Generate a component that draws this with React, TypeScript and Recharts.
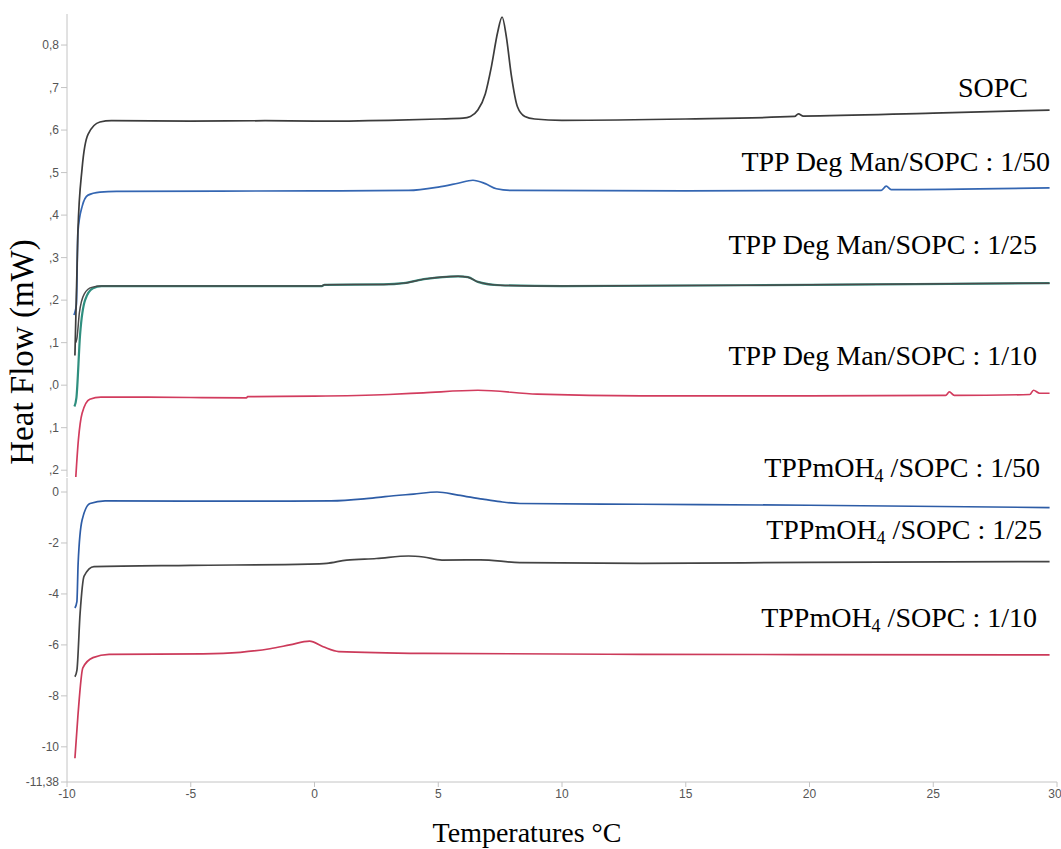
import { LineChart, Line, XAxis, YAxis } from 'recharts';

// temperature axis
const xTicks = [-10, -5, 0, 5, 10, 15, 20, 25, 30];

// upper panel (TPP Deg Man series), tick labels as printed (truncated)
const upperTicks = [0.8, 0.7, 0.6, 0.5, 0.4, 0.3, 0.2, 0.1, 0, -0.1, -0.2];
const upperTickLabels = ['0,8', ',7', ',6', ',5', ',4', ',3', ',2', ',1', ',0', ',1', ',2'];

// lower panel (TPPmOH4 series)
const lowerTicks = [0, -2, -4, -6, -8, -10, -11.38];

const sopcT = [-9.68, -9.56, -9.39, -9.15, -8.67, -8.2, -5, -2, 0, 3, 5, 6, 6.3, 6.6, 6.9, 7.15, 7.4, 7.58, 7.75, 7.95, 8.2, 8.5, 8.9, 10, 15, 19.4, 19.55, 19.75, 25, 29.7];
const sopcV = [0.07, 0.36, 0.51, 0.59, 0.619, 0.622, 0.621, 0.622, 0.621, 0.623, 0.626, 0.628, 0.632, 0.647, 0.685, 0.75, 0.83, 0.866, 0.82, 0.73, 0.655, 0.632, 0.626, 0.623, 0.626, 0.632, 0.638, 0.633, 0.64, 0.647];

const deg50T = [-9.72, -9.62, -9.56, -9.39, -9.15, -8.67, -8, 0, 3.8, 5.0, 5.8, 6.4, 6.9, 7.35, 8, 15, 22.9, 23.1, 23.3, 29.7];
const deg50V = [0.165, 0.19, 0.36, 0.42, 0.447, 0.454, 0.456, 0.457, 0.458, 0.466, 0.475, 0.482, 0.474, 0.462, 0.458, 0.457, 0.458, 0.468, 0.46, 0.464];

const deg25TealT = [-9.7, -9.62, -9.47, -9.27, -8.95, -8.6, 0, 0.3, 0.4, 2.8, 3.6, 4.5, 5.8, 6.2, 6.6, 7.5, 10, 20, 29.7];
const deg25TealV = [-0.05, -0.03, 0.12, 0.2, 0.228, 0.233, 0.233, 0.233, 0.236, 0.237, 0.24, 0.25, 0.256, 0.254, 0.243, 0.235, 0.233, 0.236, 0.24];

const deg25GrayT = [-9.65, -9.6, -9.5, -9.3, -9.0, -8.6, 0, 0.3, 0.4, 2.8, 3.6, 4.5, 5.8, 6.2, 6.6, 7.5, 10, 20, 29.7];
const deg25GrayV = [0.1, 0.11, 0.17, 0.215, 0.23, 0.233, 0.233, 0.233, 0.236, 0.237, 0.24, 0.25, 0.256, 0.254, 0.243, 0.235, 0.233, 0.236, 0.24];

const deg10T = [-9.68, -9.54, -9.39, -9.08, -8.63, -5, -2.75, -2.7, 0, 3, 4.4, 6.6, 9.0, 13.2, 20, 25.5, 25.65, 25.85, 28.9, 29.05, 29.3, 29.7];
const deg10V = [-0.25, -0.129, -0.066, -0.033, -0.028, -0.029, -0.03, -0.027, -0.026, -0.022, -0.018, -0.012, -0.021, -0.025, -0.025, -0.024, -0.016, -0.024, -0.022, -0.012, -0.019, -0.019];

const oh50T = [-9.68, -9.6, -9.55, -9.39, -9.07, -8.46, -2, 0.67, 2.0, 2.85, 4.0, 4.95, 5.8, 6.8, 7.5, 8.3, 13.2, 20, 29.7];
const oh50V = [-4.55, -4.3, -2.8, -1.1, -0.45, -0.35, -0.36, -0.35, -0.27, -0.18, -0.08, 0.0, -0.12, -0.28, -0.38, -0.45, -0.48, -0.52, -0.61];

const oh25T = [-9.68, -9.6, -9.47, -9.31, -8.91, -5, -0.25, 0.5, 1.3, 2.5, 3.8, 4.4, 5.15, 6.7, 8.3, 13.2, 20, 29.7];
const oh25V = [-7.25, -7.0, -4.75, -3.3, -2.93, -2.88, -2.83, -2.8, -2.67, -2.61, -2.51, -2.55, -2.67, -2.66, -2.77, -2.8, -2.76, -2.73];

const oh10T = [-9.68, -9.56, -9.36, -8.95, -8.3, -4.5, -3.0, -1.8, -1.0, -0.2, 0.35, 0.98, 4.4, 13.2, 20, 29.7];
const oh10V = [-10.45, -8.8, -6.9, -6.5, -6.37, -6.35, -6.29, -6.15, -6.0, -5.85, -6.07, -6.26, -6.33, -6.37, -6.38, -6.39];

const zip = (t: number[], v: number[]) => t.map((x, i) => ({ t: x, v: v[i] }));

const axisColor = '#c4c4c4';
const tickStyle = { fontSize: 12, fill: '#555', fontFamily: "'Liberation Sans', Arial, sans-serif" };
const serif = "'Liberation Serif', 'Times New Roman', serif";

const upperLabel = (v: number) => {
  const i = upperTicks.findIndex((u) => Math.abs(u - v) < 1e-6);
  return i >= 0 ? upperTickLabels[i] : '';
};
const lowerLabel = (v: number) => String(v).replace('.', ',');

function Note({ right, y, children }: { right: number; y: number; children: React.ReactNode }) {
  return (
    <div
      style={{
        position: 'absolute',
        right: 1061 - right,
        top: y,
        transform: 'translateY(-50%)',
        fontFamily: serif,
        fontSize: 28,
        lineHeight: 1,
        color: '#000',
        whiteSpace: 'nowrap',
      }}
    >
      {children}
    </div>
  );
}

const Sub = () => <sub style={{ fontSize: 18, verticalAlign: '-0.3em', lineHeight: 0 }}>4</sub>;

export default function App() {
  const lineProps = { type: 'monotone' as const, dataKey: 'v', dot: false, strokeWidth: 1.7, isAnimationActive: false };
  return (
    <div style={{ position: 'absolute', left: 0, top: 0, width: 1061, height: 849, background: '#fff', overflow: 'hidden' }}>
      <div style={{ position: 'absolute', left: 0, top: 0 }}>
        <LineChart width={1061} height={480} margin={{ top: 14, right: 4, left: 0, bottom: 3 }}>
          <XAxis type="number" dataKey="t" domain={[-10, 30]} hide allowDataOverflow />
          <YAxis
            type="number"
            domain={[-0.216, 0.873]}
            ticks={upperTicks}
            allowDataOverflow
            width={67}
            tickSize={6}
            tickFormatter={upperLabel}
            tick={tickStyle}
            axisLine={{ stroke: axisColor }}
            tickLine={{ stroke: axisColor }}
          />
          <Line {...lineProps} data={zip(deg10T, deg10V)} stroke="#d23c5e" />
          <Line {...lineProps} data={zip(deg25TealT, deg25TealV)} stroke="#2f8f7f" strokeWidth={2.2} />
          <Line {...lineProps} data={zip(deg25GrayT, deg25GrayV)} stroke="#4a4a4a" strokeWidth={1.5} />
          <Line {...lineProps} data={zip(deg50T, deg50V)} stroke="#3466b2" />
          <Line {...lineProps} data={zip(sopcT, sopcV)} stroke="#3c3c3c" />
        </LineChart>
      </div>
      <div style={{ position: 'absolute', left: 0, top: 478 }}>
        <LineChart width={1061} height={371} margin={{ top: 0, right: 4, left: 0, bottom: 37 }}>
          <XAxis
            type="number"
            dataKey="t"
            domain={[-10, 30]}
            ticks={xTicks}
            allowDataOverflow
            height={30}
            tickSize={5}
            tick={tickStyle}
            axisLine={{ stroke: axisColor }}
            tickLine={{ stroke: axisColor }}
          />
          <YAxis
            type="number"
            domain={[-11.38, 0.55]}
            ticks={lowerTicks}
            allowDataOverflow
            width={67}
            tickSize={6}
            tickFormatter={lowerLabel}
            tick={tickStyle}
            axisLine={{ stroke: axisColor }}
            tickLine={{ stroke: axisColor }}
          />
          <Line {...lineProps} data={zip(oh10T, oh10V)} stroke="#cc3a5a" />
          <Line {...lineProps} data={zip(oh25T, oh25V)} stroke="#444444" />
          <Line {...lineProps} data={zip(oh50T, oh50V)} stroke="#2d5ca6" />
        </LineChart>
      </div>

      <Note right={1028} y={88}>SOPC</Note>
      <Note right={1050} y={162}>TPP Deg Man/SOPC : 1/50</Note>
      <Note right={1037} y={245}>TPP Deg Man/SOPC : 1/25</Note>
      <Note right={1037} y={356}>TPP Deg Man/SOPC : 1/10</Note>
      <Note right={1040} y={468}>TPPmOH<Sub /> /SOPC : 1/50</Note>
      <Note right={1042} y={530}>TPPmOH<Sub /> /SOPC : 1/25</Note>
      <Note right={1037} y={618}>TPPmOH<Sub /> /SOPC : 1/10</Note>

      <div
        style={{
          position: 'absolute',
          left: 22,
          top: 352,
          transform: 'translate(-50%, -50%) rotate(-90deg)',
          fontFamily: serif,
          fontSize: 33,
          lineHeight: 1,
          whiteSpace: 'nowrap',
        }}
      >
        Heat Flow (mW)
      </div>
      <div
        style={{
          position: 'absolute',
          left: 527,
          top: 833,
          transform: 'translate(-50%, -50%)',
          fontFamily: serif,
          fontSize: 28,
          lineHeight: 1,
          whiteSpace: 'nowrap',
        }}
      >
        Temperatures °C
      </div>
    </div>
  );
}
